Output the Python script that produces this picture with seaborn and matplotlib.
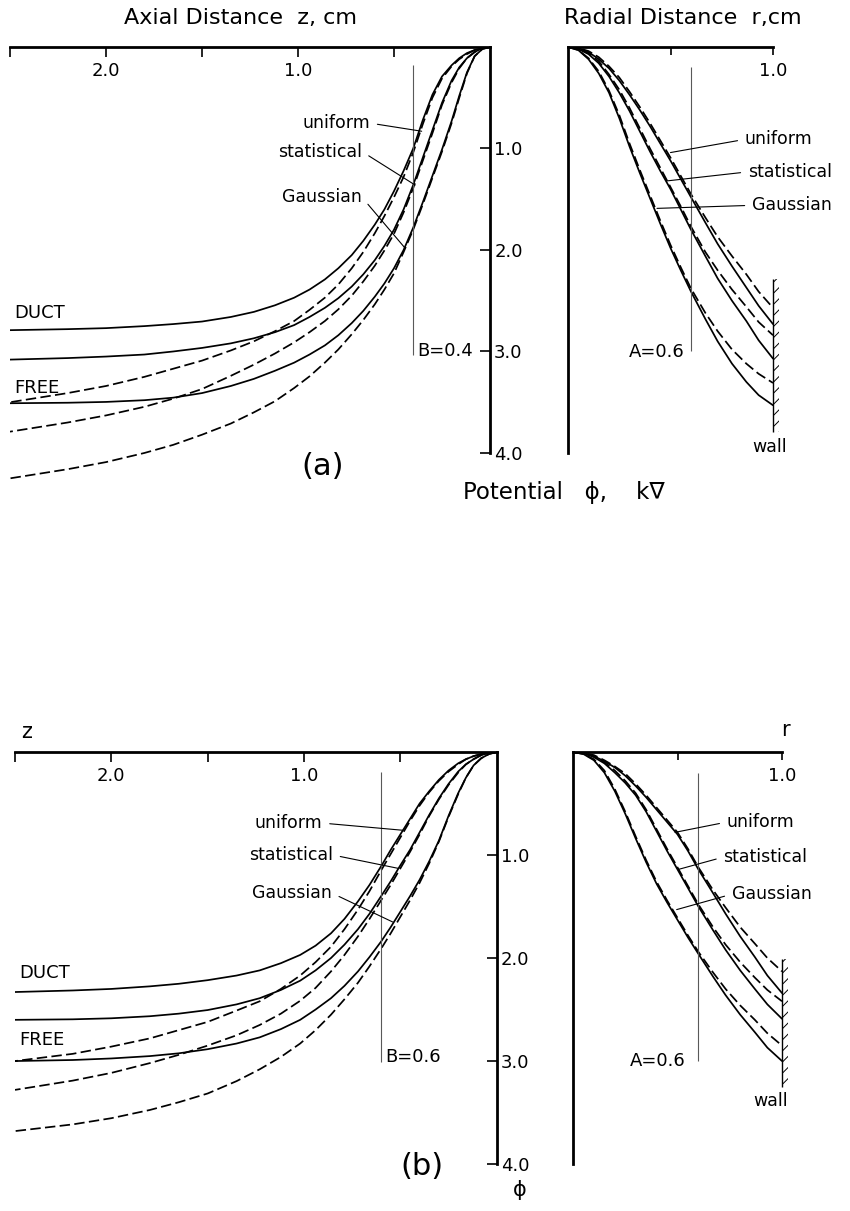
import numpy as np
import pandas as pd
import matplotlib
matplotlib.use('Agg')
import matplotlib.pyplot as plt
from matplotlib.patches import Rectangle
import seaborn as sns

# ---- values ----
# axial plots: potential phi (kV) along z (cm), shared z samples
z_grid = [0, 0.04, 0.08, 0.12, 0.16, 0.2, 0.25, 0.3, 0.35, 0.4, 0.45, 0.5,
          0.55, 0.6, 0.66, 0.72, 0.79, 0.86, 0.94, 1.02, 1.12, 1.23, 1.35,
          1.5, 1.65, 1.8, 2.0, 2.2, 2.5]

a_axial_uniform_duct = [0, 0.01, 0.03, 0.06, 0.11, 0.18, 0.29, 0.47, 0.72, 1.0, 1.22, 1.42,
                        1.6, 1.75, 1.91, 2.05, 2.18, 2.29, 2.39, 2.47, 2.545, 2.61, 2.66,
                        2.705, 2.73, 2.75, 2.77, 2.78, 2.79]
a_axial_uniform_free = [0, 0.01, 0.03, 0.07, 0.12, 0.19, 0.31, 0.5, 0.76, 1.04, 1.28, 1.48,
                        1.665, 1.835, 2.02, 2.18, 2.34, 2.47, 2.59, 2.7, 2.8, 2.9, 2.99,
                        3.09, 3.17, 3.25, 3.34, 3.41, 3.5]
a_axial_statistical_duct = [0, 0.01, 0.05, 0.11, 0.2, 0.33, 0.55, 0.82, 1.09, 1.36, 1.6, 1.8,
                            1.96, 2.1, 2.24, 2.36, 2.475, 2.57, 2.66, 2.74, 2.81, 2.87, 2.92,
                            2.965, 3.0, 3.03, 3.05, 3.065, 3.08]
a_axial_statistical_free = [0, 0.01, 0.05, 0.11, 0.21, 0.35, 0.57, 0.85, 1.12, 1.39, 1.63, 1.84,
                            2.005, 2.155, 2.31, 2.45, 2.585, 2.7, 2.81, 2.91, 3.02, 3.13, 3.24,
                            3.37, 3.465, 3.545, 3.63, 3.7, 3.79]
a_axial_gaussian_duct = [0, 0.02, 0.09, 0.25, 0.48, 0.73, 1.01, 1.27, 1.53, 1.78, 2.0, 2.18,
                         2.33, 2.46, 2.6, 2.72, 2.84, 2.94, 3.03, 3.11, 3.19, 3.27, 3.34,
                         3.41, 3.455, 3.48, 3.497, 3.505, 3.51]
a_axial_gaussian_free = [0, 0.02, 0.09, 0.26, 0.5, 0.75, 1.03, 1.29, 1.55, 1.8, 2.02, 2.23,
                         2.39, 2.535, 2.69, 2.83, 2.98, 3.11, 3.245, 3.36, 3.49, 3.6, 3.71,
                         3.82, 3.92, 4.0, 4.09, 4.16, 4.25]

b_axial_uniform_duct = [0, 0.01, 0.02, 0.04, 0.07, 0.11, 0.18, 0.27, 0.38, 0.5, 0.65, 0.8,
                        0.95, 1.11, 1.29, 1.45, 1.62, 1.76, 1.88, 1.97, 2.05, 2.12, 2.17,
                        2.215, 2.25, 2.275, 2.3, 2.315, 2.33]
b_axial_uniform_free = [0, 0.01, 0.02, 0.04, 0.07, 0.12, 0.19, 0.28, 0.39, 0.52, 0.67, 0.83,
                        0.99, 1.15, 1.35, 1.53, 1.72, 1.89, 2.04, 2.17, 2.3, 2.42, 2.51,
                        2.62, 2.7, 2.78, 2.86, 2.93, 3.0]
b_axial_statistical_duct = [0, 0.01, 0.03, 0.07, 0.12, 0.19, 0.31, 0.45, 0.61, 0.78, 0.95, 1.1,
                            1.255, 1.4, 1.57, 1.72, 1.87, 2.0, 2.12, 2.22, 2.31, 2.39, 2.45,
                            2.505, 2.54, 2.565, 2.585, 2.595, 2.6]
b_axial_statistical_free = [0, 0.01, 0.03, 0.07, 0.12, 0.2, 0.32, 0.46, 0.62, 0.8, 0.97, 1.13,
                            1.29, 1.44, 1.62, 1.79, 1.97, 2.13, 2.29, 2.415, 2.54, 2.65, 2.75,
                            2.85, 2.94, 3.02, 3.115, 3.19, 3.28]
b_axial_gaussian_duct = [0, 0.02, 0.06, 0.13, 0.25, 0.4, 0.62, 0.86, 1.06, 1.24, 1.4, 1.55,
                         1.7, 1.84, 1.99, 2.13, 2.27, 2.39, 2.5, 2.6, 2.69, 2.77, 2.83,
                         2.885, 2.925, 2.952, 2.975, 2.99, 3.0]
b_axial_gaussian_free = [0, 0.02, 0.06, 0.13, 0.25, 0.41, 0.63, 0.87, 1.08, 1.27, 1.44, 1.6,
                         1.76, 1.91, 2.08, 2.24, 2.4, 2.55, 2.7, 2.83, 2.96, 3.08, 3.195,
                         3.315, 3.4, 3.475, 3.555, 3.615, 3.68]

# radial plots: potential phi (kV) along r (cm), shared r samples
r_grid = [0, 0.05, 0.1, 0.15, 0.2, 0.25, 0.3, 0.35, 0.4, 0.45, 0.5, 0.55, 0.6,
          0.67, 0.73, 0.8, 0.87, 0.93, 1.0]

a_radial_uniform_duct = [0, 0.01, 0.05, 0.12, 0.21, 0.33, 0.47, 0.62, 0.78, 0.95, 1.12, 1.3, 1.48,
                         1.73, 1.94, 2.16, 2.37, 2.55, 2.73]
a_radial_uniform_free = [0, 0.01, 0.04, 0.1, 0.19, 0.3, 0.44, 0.59, 0.75, 0.92, 1.09, 1.27, 1.45,
                         1.68, 1.87, 2.06, 2.24, 2.41, 2.57]
a_radial_statistical_duct = [0, 0.02, 0.07, 0.16, 0.29, 0.45, 0.63, 0.83, 1.03, 1.22, 1.4, 1.6, 1.8,
                             2.06, 2.28, 2.5, 2.7, 2.89, 3.07]
a_radial_statistical_free = [0, 0.02, 0.06, 0.14, 0.27, 0.42, 0.6, 0.8, 1.0, 1.19, 1.38, 1.57, 1.77,
                             2.02, 2.2, 2.39, 2.56, 2.71, 2.84]
a_radial_gaussian_duct = [0, 0.03, 0.12, 0.26, 0.45, 0.7, 0.98, 1.24, 1.49, 1.74, 1.98, 2.2, 2.41,
                          2.68, 2.9, 3.12, 3.3, 3.43, 3.53]
a_radial_gaussian_free = [0, 0.03, 0.11, 0.24, 0.43, 0.67, 0.95, 1.21, 1.46, 1.71, 1.95, 2.17, 2.38,
                          2.62, 2.8, 2.98, 3.12, 3.22, 3.31]

b_radial_uniform_duct = [0, 0.01, 0.04, 0.09, 0.15, 0.23, 0.33, 0.44, 0.56, 0.68, 0.8, 0.96, 1.14,
                         1.37, 1.57, 1.79, 1.99, 2.17, 2.34]
b_radial_uniform_free = [0, 0.01, 0.03, 0.08, 0.14, 0.21, 0.31, 0.42, 0.54, 0.66, 0.78, 0.94, 1.12,
                         1.34, 1.51, 1.7, 1.86, 2.0, 2.13]
b_radial_statistical_duct = [0, 0.01, 0.05, 0.11, 0.2, 0.3, 0.42, 0.58, 0.77, 0.96, 1.14, 1.32, 1.5,
                             1.73, 1.92, 2.12, 2.3, 2.45, 2.59]
b_radial_statistical_free = [0, 0.01, 0.04, 0.1, 0.18, 0.28, 0.4, 0.56, 0.75, 0.94, 1.12, 1.3, 1.48,
                             1.7, 1.87, 2.04, 2.19, 2.31, 2.42]
b_radial_gaussian_duct = [0, 0.02, 0.08, 0.2, 0.38, 0.6, 0.84, 1.07, 1.28, 1.46, 1.63, 1.8, 1.96,
                          2.18, 2.36, 2.55, 2.72, 2.87, 3.0]
b_radial_gaussian_free = [0, 0.02, 0.07, 0.18, 0.36, 0.58, 0.82, 1.05, 1.26, 1.44, 1.61, 1.78, 1.94,
                          2.14, 2.3, 2.46, 2.6, 2.73, 2.85]

profiles = ['uniform', 'statistical', 'Gaussian']
axial_ticks = [1.0, 2.0]
phi_ticks = [1.0, 2.0, 3.0, 4.0]
B_values = [0.4, 0.6]
A_values = [0.6, 0.6]
wall_r = 1.0
wall_span = [(2.29, 3.79), (2.01, 3.25)]

W, H = 850, 1211


def frame(xname, grid, duct, free):
    '''long-form table of the six curves of one plot'''
    rows = []
    for profile, d, f in zip(profiles, duct, free):
        for case, values in (('DUCT', d), ('FREE', f)):
            for x, phi in zip(grid, values):
                rows.append({xname: x, 'phi': phi, 'case': case, 'unit': profile + case})
    return pd.DataFrame(rows)


def draw_curves(ax, df, xname):
    sns.lineplot(data=df, x=xname, y='phi', style='case', units='unit', estimator=None,
                 sort=False, dashes={'DUCT': '', 'FREE': (6, 2.5)}, color='black',
                 linewidth=1.25, legend=False, ax=ax)
    ax.set_xlabel('')
    ax.set_ylabel('')


def setup_axial(ax, ybottom):
    ax.set_xlim(2.5, 0)
    ax.set_ylim(ybottom, 0)
    ax.spines['left'].set_visible(False)
    ax.spines['bottom'].set_visible(False)
    for s in ('top', 'right'):
        ax.spines[s].set_linewidth(2.0)
        ax.spines[s].set_color('black')
    ax.spines['right'].set_bounds(0, 4)
    ax.xaxis.tick_top()
    ax.set_xticks(axial_ticks)
    ax.set_xticklabels(['{:.1f}'.format(t) for t in axial_ticks])
    ax.set_xticks([0.5, 1.5, 2.5], minor=True)
    ax.tick_params(axis='x', which='both', direction='in', length=7, width=1.2,
                   pad=-24, labelsize=13, colors='black')
    ax.yaxis.tick_right()
    ax.set_yticks(phi_ticks)
    ax.set_yticklabels(['{:.1f}'.format(t) for t in phi_ticks])
    ax.tick_params(axis='y', direction='in', length=7, width=1.2, pad=3, labelsize=13,
                   colors='black')


def setup_radial(ax, ybottom):
    ax.set_xlim(0, 1.0)
    ax.set_ylim(ybottom, 0)
    ax.spines['right'].set_visible(False)
    ax.spines['bottom'].set_visible(False)
    for s in ('top', 'left'):
        ax.spines[s].set_linewidth(2.0)
        ax.spines[s].set_color('black')
    ax.spines['left'].set_bounds(0, 4)
    ax.xaxis.tick_top()
    ax.set_xticks([0.5, 1.0])
    ax.set_xticklabels(['', '1.0'])
    ax.tick_params(axis='x', direction='in', length=6, width=1.2, pad=-24, labelsize=13,
                   colors='black')
    ax.set_yticks([1.0, 2.0, 3.0])
    ax.tick_params(axis='y', direction='out', length=5, width=1.2, labelleft=False,
                   colors='black')


def label(ax, text, tip, pos, side):
    ha = 'right' if side == 'right' else 'left'
    rel = (1, 0.5) if side == 'right' else (0, 0.5)
    ax.annotate(text, xy=tip, xytext=pos, textcoords='data', ha=ha, va='center',
                fontsize=12.5, annotation_clip=False,
                arrowprops=dict(arrowstyle='-', lw=0.8, color='black', relpos=rel,
                                shrinkA=3, shrinkB=0))


def wall(ax, span):
    top, bot = span
    ax.vlines(wall_r, top, bot, color='black', lw=1.0, clip_on=False)
    ax.add_patch(Rectangle((wall_r, top), 0.028, bot - top, fill=False, hatch='///',
                           lw=0, edgecolor='black', clip_on=False))


sns.set_style('white')
plt.rcParams['font.family'] = ['DejaVu Sans']
plt.rcParams['text.color'] = 'black'
plt.rcParams['hatch.linewidth'] = 0.7

fig = plt.figure(figsize=(W / 100, H / 100), dpi=100)

# ---------- (a) ----------
ax_az = fig.add_axes([10 / W, 1 - 488.5 / H, 480 / W, 441.5 / H])
ax_ar = fig.add_axes([568 / W, 1 - 488.5 / H, 205 / W, 441.5 / H])
# ---------- (b) ----------
ax_bz = fig.add_axes([15 / W, 1 - 1169.2 / H, 481.7 / W, 417.2 / H])
ax_br = fig.add_axes([573 / W, 1 - 1169.2 / H, 209 / W, 417.2 / H])

draw_curves(ax_az, frame('z', z_grid,
                         [a_axial_uniform_duct, a_axial_statistical_duct, a_axial_gaussian_duct],
                         [a_axial_uniform_free, a_axial_statistical_free, a_axial_gaussian_free]), 'z')
draw_curves(ax_bz, frame('z', z_grid,
                         [b_axial_uniform_duct, b_axial_statistical_duct, b_axial_gaussian_duct],
                         [b_axial_uniform_free, b_axial_statistical_free, b_axial_gaussian_free]), 'z')
draw_curves(ax_ar, frame('r', r_grid,
                         [a_radial_uniform_duct, a_radial_statistical_duct, a_radial_gaussian_duct],
                         [a_radial_uniform_free, a_radial_statistical_free, a_radial_gaussian_free]), 'r')
draw_curves(ax_br, frame('r', r_grid,
                         [b_radial_uniform_duct, b_radial_statistical_duct, b_radial_gaussian_duct],
                         [b_radial_uniform_free, b_radial_statistical_free, b_radial_gaussian_free]), 'r')

setup_axial(ax_az, 4.35)
setup_axial(ax_bz, 4.05)
setup_radial(ax_ar, 4.35)
setup_radial(ax_br, 4.05)

# marker lines
ax_az.vlines(B_values[0], 0.18, 3.03, color='0.35', lw=0.8)
ax_bz.vlines(B_values[1], 0.19, 3.01, color='0.35', lw=0.8)
ax_ar.vlines(A_values[0], 0.2, 3.0, color='0.35', lw=0.8)
ax_br.vlines(A_values[1], 0.2, 3.0, color='0.35', lw=0.8)

ax_az.text(B_values[0] - 0.02, 3.0, 'B={}'.format(B_values[0]), ha='left', va='center', fontsize=13)
ax_bz.text(B_values[1] - 0.02, 2.96, 'B={}'.format(B_values[1]), ha='left', va='center', fontsize=13)
ax_ar.text(A_values[0] - 0.03, 3.01, 'A={}'.format(A_values[0]), ha='right', va='center', fontsize=13)
ax_br.text(A_values[1] - 0.06, 3.0, 'A={}'.format(A_values[1]), ha='right', va='center', fontsize=13)

# curve labels, axial
label(ax_az, 'uniform', (0.356, 0.83), (0.625, 0.75), 'right')
label(ax_az, 'statistical', (0.39, 1.36), (0.667, 1.03), 'right')
label(ax_az, 'Gaussian', (0.443, 1.98), (0.667, 1.48), 'right')
label(ax_bz, 'uniform', (0.486, 0.76), (0.905, 0.69), 'right')
label(ax_bz, 'statistical', (0.51, 1.13), (0.85, 1.0), 'right')
label(ax_bz, 'Gaussian', (0.54, 1.65), (0.855, 1.37), 'right')
# curve labels, radial
label(ax_ar, 'uniform', (0.5, 1.04), (0.863, 0.91), 'left')
label(ax_ar, 'statistical', (0.48, 1.32), (0.878, 1.23), 'left')
label(ax_ar, 'Gaussian', (0.434, 1.59), (0.898, 1.56), 'left')
label(ax_br, 'uniform', (0.488, 0.78), (0.736, 0.68), 'left')
label(ax_br, 'statistical', (0.504, 1.14), (0.72, 1.02), 'left')
label(ax_br, 'Gaussian', (0.496, 1.53), (0.76, 1.38), 'left')

for ax, ypos in ((ax_az, (2.62, 3.36)), (ax_bz, (2.15, 2.8))):
    ax.text(2.48, ypos[0], 'DUCT', ha='left', va='center', fontsize=13)
    ax.text(2.48, ypos[1], 'FREE', ha='left', va='center', fontsize=13)

wall(ax_ar, wall_span[0])
wall(ax_br, wall_span[1])
ax_ar.text(0.985, 3.94, 'wall', ha='center', va='center', fontsize=12.5)
ax_br.text(0.944, 3.39, 'wall', ha='center', va='center', fontsize=12.5)

ax_az.text(0.87, 4.13, '(a)', ha='center', va='center', fontsize=22)
ax_bz.text(0.39, 4.02, '(b)', ha='center', va='center', fontsize=22)

# titles and axis names
fig.text(240 / W, 1 - 18 / H, 'Axial Distance  z, cm', ha='center', va='center', fontsize=16)
fig.text(683 / W, 1 - 18 / H, 'Radial Distance  r,cm', ha='center', va='center', fontsize=16)
fig.text(463 / W, 1 - 492 / H, 'Potential   \u03d5,    k\u2207', ha='left', va='center', fontsize=16.5)
fig.text(27 / W, 1 - 732 / H, 'z', ha='center', va='center', fontsize=15)
fig.text(785 / W, 1 - 730 / H, 'r', ha='center', va='center', fontsize=15)
fig.text(520 / W, 1 - 1190 / H, '\u03d5', ha='center', va='center', fontsize=15)

fig.savefig('out.png', dpi=100, facecolor='white')
